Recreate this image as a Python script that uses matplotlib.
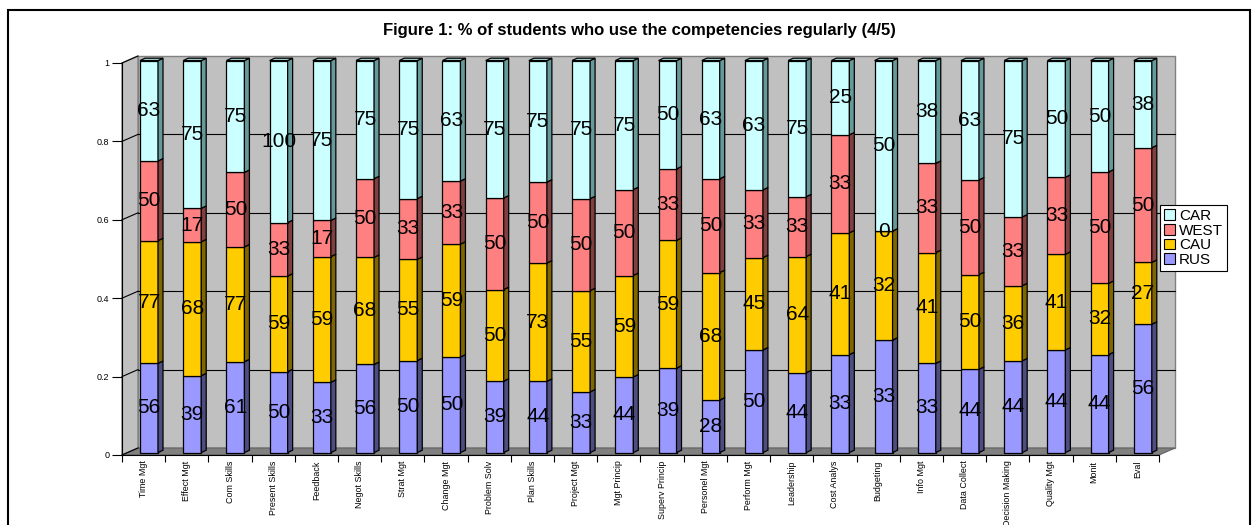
import matplotlib
matplotlib.use('Agg')
import matplotlib.pyplot as plt
import numpy as np
from matplotlib.patches import Polygon, Rectangle, Patch

categories = ['Time Mgt', 'Effect Mgt', 'Com Skills', 'Present Skills', 'Feedback',
              'Negot Skills', 'Strat Mgt', 'Change Mgt', 'Problem Solv', 'Plan Skills',
              'Project Mgt', 'Mgt Princip', 'Superv Princip', 'Personel Mgt', 'Perform Mgt',
              'Leadership', 'Cost Analys', 'Budgeting', 'Info Mgt', 'Data Collect',
              'Decision Making', 'Quality Mgt', 'Monit', 'Eval']
rus = [56, 39, 61, 50, 33, 56, 50, 50, 39, 44, 33, 44, 39, 28, 50, 44, 33, 33, 33, 44, 44, 44, 44, 56]
cau = [77, 68, 77, 59, 59, 68, 55, 59, 50, 73, 55, 59, 59, 68, 45, 64, 41, 32, 41, 50, 36, 41, 32, 27]
west = [50, 17, 50, 33, 17, 50, 33, 33, 50, 50, 50, 50, 33, 50, 33, 33, 33, 0, 33, 50, 33, 33, 50, 50]
car = [63, 75, 75, 100, 75, 75, 75, 63, 75, 75, 75, 75, 50, 63, 63, 75, 25, 50, 38, 63, 75, 50, 50, 38]
series_names = ['RUS', 'CAU', 'WEST', 'CAR']
series_colors = ['#9999FF', '#FFCC00', '#FF8080', '#CCFFFF']
side_colors = ['#4D4D80', '#806600', '#804040', '#669999']
top_color = '#A3CCCC'
yticks = [0, 0.2, 0.4, 0.6, 0.8, 1]
ytick_labels = ['0', '0.2', '0.4', '0.6', '0.8', '1']
title = 'Figure 1: % of students who use the competencies regularly (4/5)'

plt.rcParams['font.family'] = ['Liberation Sans', 'DejaVu Sans']

W, H = 1255, 525
fig = plt.figure(figsize=(W / 100, H / 100), dpi=100)
ax = fig.add_axes([122 / W, (H - 455) / H, 1037 / W, 392 / H])
n = len(categories)
ax.set_xlim(-0.5, n - 0.5)
ax.set_ylim(0, 1)
ax.patch.set_visible(False)

p0 = ax.transData.transform((0, 0))
p1 = ax.transData.transform((1, 1))
sx, sy = p1[0] - p0[0], p1[1] - p0[1]

# walls / floor
wdx, wdy = 16 / sx, 7 / sy
ax.add_patch(Rectangle((-0.5 + wdx, wdy), n, 1, facecolor='#C0C0C0', edgecolor='#808080',
                       lw=1, zorder=0, clip_on=False))
ax.add_patch(Polygon([(-0.5, 0), (-0.5 + wdx, wdy), (-0.5 + wdx, 1 + wdy), (-0.5, 1)],
                     closed=True, facecolor='#C0C0C0', edgecolor='#808080', lw=1,
                     zorder=0, clip_on=False))
ax.add_patch(Polygon([(-0.5, 0), (n - 0.5, 0), (n - 0.5 + wdx, wdy), (-0.5 + wdx, wdy)],
                     closed=True, facecolor='#808080', edgecolor='#606060', lw=0.8,
                     zorder=0.5, clip_on=False))
for v in yticks[1:-1]:
    ax.plot([-0.5 + wdx, n - 0.5 + wdx], [v + wdy, v + wdy], color='black', lw=0.8,
            zorder=1, clip_on=False)
for v in yticks:
    ax.plot([-0.5, -0.5 + wdx], [v, v + wdy], color='black', lw=0.8, zorder=1, clip_on=False)

# bars
data = np.array([rus, cau, west, car], dtype=float)
frac = data / data.sum(axis=0)
x = np.arange(n)
bdx, bdy = 5.4 / sx, 2.4 / sy
bw = 18 / sx
ddx, ddy = 5 / sx, 2.4 / sy
cum = np.zeros(n)
for j in range(4):
    ax.bar(x + bdx, frac[j], width=bw, bottom=cum + bdy, color=series_colors[j],
           edgecolor='black', lw=0.9, zorder=3, clip_on=False)
    for i in range(n):
        xr = x[i] + bdx + bw / 2
        y0 = cum[i] + bdy
        y1 = cum[i] + frac[j][i] + bdy
        ax.add_patch(Polygon([(xr, y0), (xr + ddx, y0 + ddy), (xr + ddx, y1 + ddy), (xr, y1)],
                             closed=True, facecolor=side_colors[j], edgecolor='black',
                             lw=0.9, zorder=3, clip_on=False))
        ax.text(x[i] + bdx, (y0 + y1) / 2, str(int(data[j][i])), ha='center', va='center',
                fontsize=15, color='black', zorder=6)
    cum = cum + frac[j]
for i in range(n):
    xl = x[i] + bdx - bw / 2
    xr = x[i] + bdx + bw / 2
    yt = cum[i] + bdy
    ax.add_patch(Polygon([(xl, yt), (xr, yt), (xr + ddx, yt + ddy), (xl + ddx, yt + ddy)],
                         closed=True, facecolor=top_color, edgecolor='black', lw=0.9,
                         zorder=3, clip_on=False))

# axes styling
for s in ['top', 'right']:
    ax.spines[s].set_visible(False)
ax.spines['left'].set_color('black')
ax.spines['bottom'].set_color('black')
ax.spines['left'].set_zorder(2)
ax.spines['bottom'].set_zorder(2)
ax.set_yticks(yticks)
ax.set_yticklabels(ytick_labels, fontsize=6.5)
ax.tick_params(axis='y', length=7.5, width=0.8, pad=1.5)
ax.set_xticks(x)
ax.set_xticklabels(categories, rotation=90, fontsize=6.4)
ax.set_xticks(np.arange(-0.5, n, 1), minor=True)
ax.tick_params(axis='x', which='major', length=0, pad=4)
ax.tick_params(axis='x', which='minor', length=5, width=0.8)

# legend
handles = [Patch(facecolor=series_colors[j], edgecolor='black', lw=0.8) for j in [3, 2, 1, 0]]
labels = [series_names[j] for j in [3, 2, 1, 0]]
leg = fig.legend(handles, labels, loc='upper left', bbox_to_anchor=(1160 / W, 1 - 205 / H),
                 fontsize=11, frameon=True, fancybox=False, framealpha=1, edgecolor='black',
                 handlelength=0.7, handleheight=0.7, handletextpad=0.3, labelspacing=0.05,
                 borderpad=0.25, borderaxespad=0)
leg.get_frame().set_linewidth(0.8)

fig.text(639 / W, 1 - 30 / H, title, ha='center', va='center', fontsize=12, fontweight='bold')

fig.add_artist(Rectangle((8 / W, -0.1), (1250 - 8) / W, (H - 10) / H + 0.1,
                         transform=fig.transFigure, fill=False, edgecolor='black', lw=1.5))

fig.savefig('out.png', dpi=100)
